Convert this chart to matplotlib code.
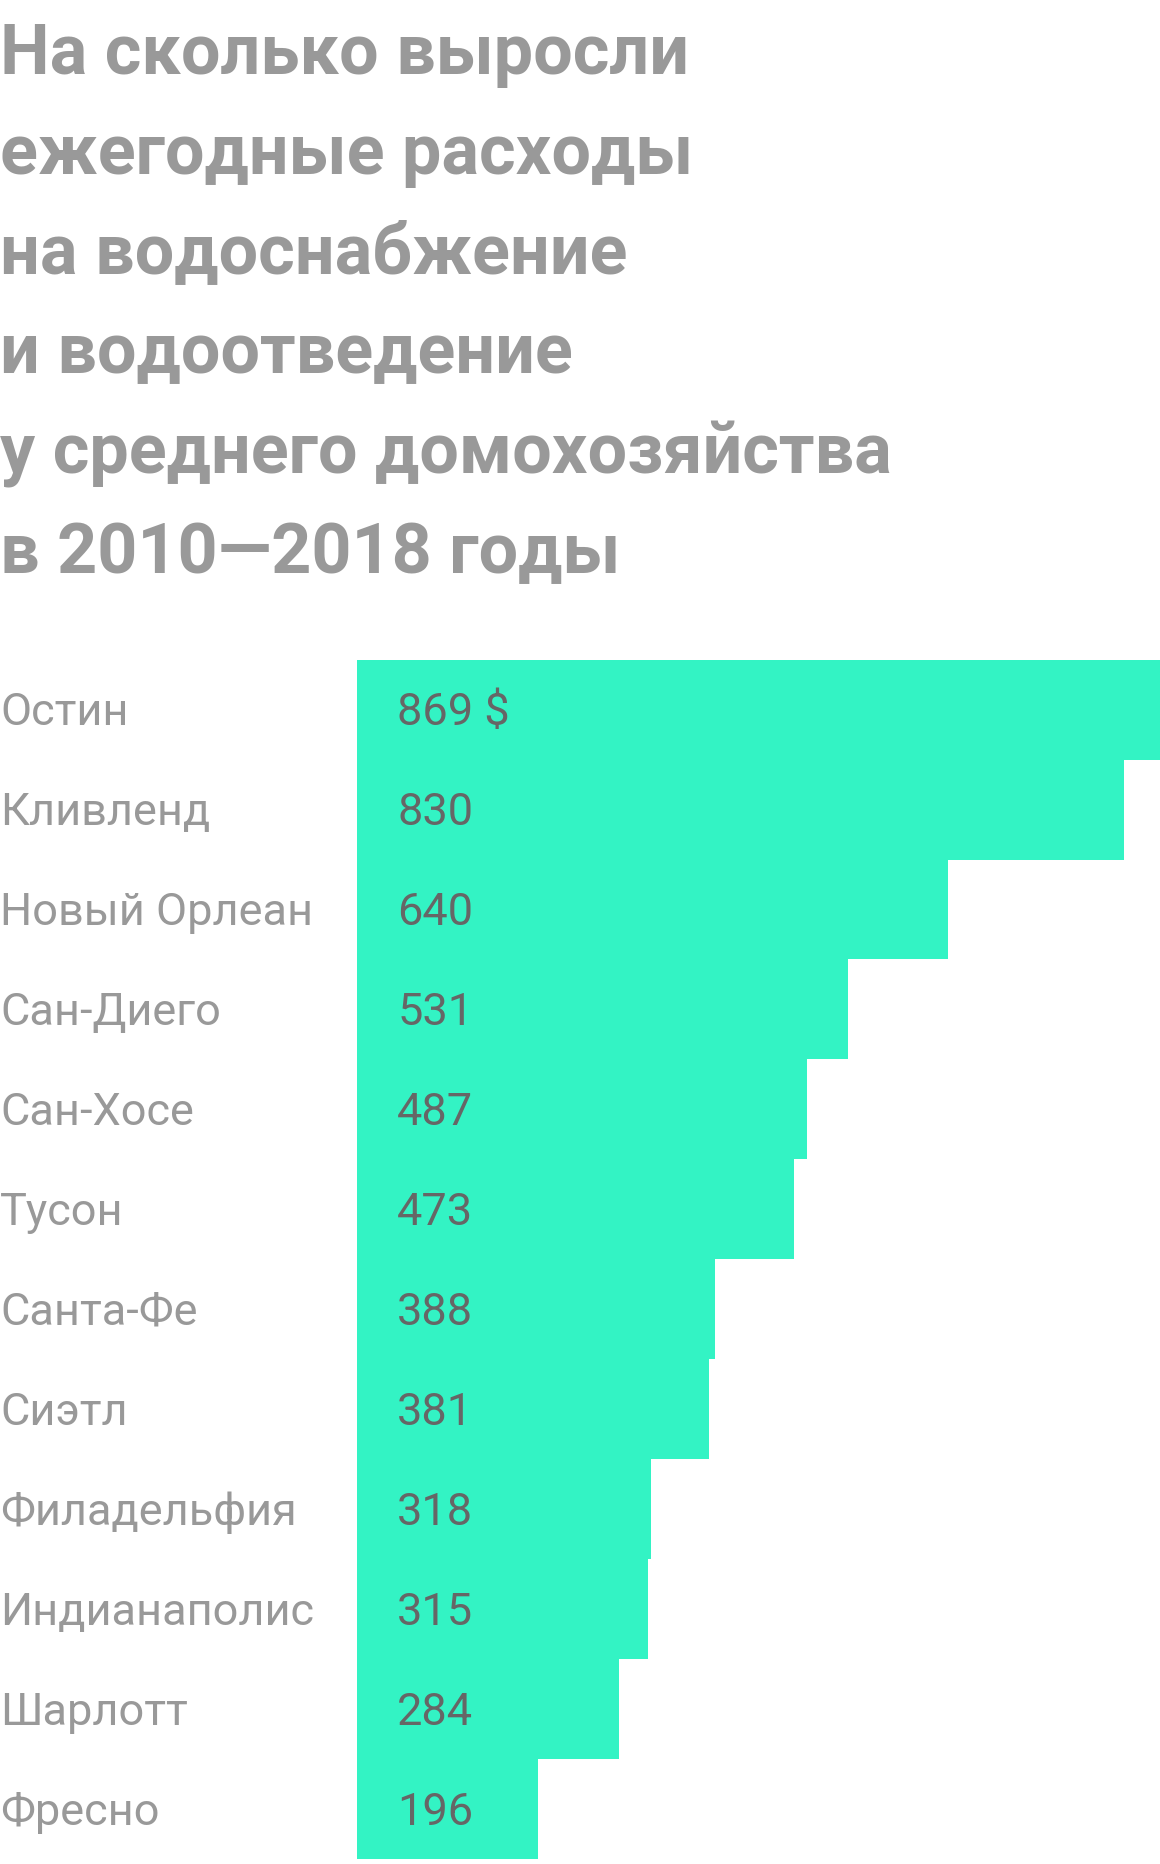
import matplotlib.pyplot as plt

# данные
cities = ["Остин", "Кливленд", "Новый Орлеан", "Сан-Диего", "Сан-Хосе", "Тусон",
          "Санта-Фе", "Сиэтл", "Филадельфия", "Индианаполис", "Шарлотт", "Фресно"]
values = [869, 830, 640, 531, 487, 473, 388, 381, 318, 315, 284, 196]
value_labels = ["869 $"] + [str(v) for v in values[1:]]

title_lines = ["На сколько выросли",
               "ежегодные расходы",
               "на водоснабжение",
               "и водоотведение",
               "у среднего домохозяйства",
               "в 2010—2018 годы"]

W, H = 1160, 1864
fig = plt.figure(figsize=(W / 100, H / 100), dpi=100, facecolor="white")

# заголовок, строка за строкой
for i, line in enumerate(title_lines):
    base = 73.7 + i * 99.85
    fig.text(0.0, 1 - base / H, line, ha="left", va="baseline",
             fontsize=50.5, fontweight="bold", color="#999999", family="Roboto")

# область столбцов
x0 = 356.6 / W
top = 1 - 659.6 / H
bottom = 1 - 1859.0 / H
ax = fig.add_axes([x0, bottom, 1 - x0, top - bottom])
ax.axis("off")

pos = list(range(len(cities)))
ax.barh(pos, values, height=1.0, color="#33f3c4", edgecolor="none")
ax.set_xlim(0, 869)
ax.set_ylim(len(cities) - 0.5, -0.5)

for p, v, lab in zip(pos, values, value_labels):
    ax.text(44, p + 0.035, lab, ha="left", va="center", fontsize=32.5,
            color="#666666", family="Roboto")

# подписи городов слева
for p, c in zip(pos, cities):
    y_fig = top - (p + 0.5) / len(cities) * (top - bottom) - 3.5 / H
    fig.text(0.0, y_fig, c, ha="left", va="center", fontsize=32.5,
             color="#999999", family="Roboto")

fig.savefig("out.png", dpi=100, facecolor="white")
